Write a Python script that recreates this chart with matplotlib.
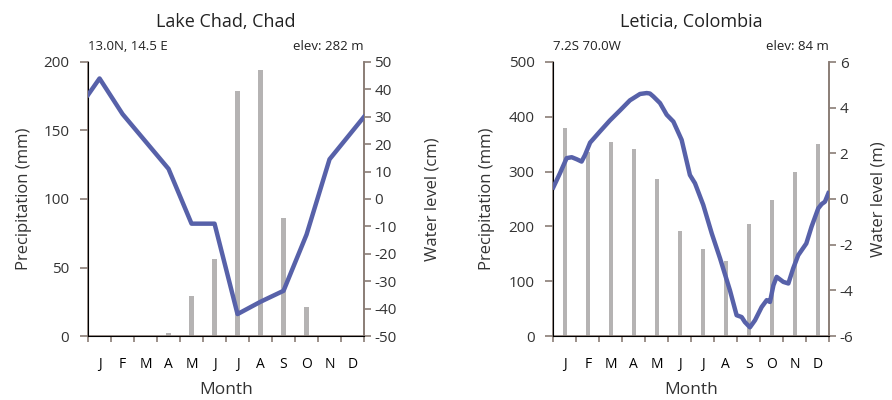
import matplotlib
matplotlib.use("Agg")
import matplotlib.pyplot as plt
import numpy as np

plt.rcParams['font.family'] = ['Open Sans', 'DejaVu Sans']
plt.rcParams['axes.unicode_minus'] = False

months = ['J', 'F', 'M', 'A', 'M', 'J', 'J', 'A', 'S', 'O', 'N', 'D']

# Lake Chad
chad_precip = [0, 0, 0, 2, 29, 56, 179, 194, 86, 21, 0, 0]
chad_level_x = [0, 0.5, 1.5, 2.5, 3.5, 4.5, 5.5, 6.5, 7.5, 8.5, 9.5, 10.5, 12]
chad_level = [38, 44, 31, 21, 11, -9, -9, -42, -37.5, -33.5, -13, 14.5, 30]

# Leticia
let_precip = [380, 335, 354, 342, 286, 192, 159, 136, 205, 249, 299, 351]
let_level_x = [0.0, 0.29, 0.58, 0.80, 1.02, 1.23, 1.38, 1.60, 2.03, 2.46, 2.90,
               3.33, 3.77, 4.06, 4.20, 4.35, 4.64, 4.93, 5.22, 5.58, 5.94, 6.16,
               6.52, 6.89, 7.25, 7.68, 7.97, 8.19, 8.33, 8.55, 8.77, 9.06, 9.28,
               9.42, 9.57, 9.71, 10.0, 10.22, 10.43, 10.65, 11.0, 11.23, 11.52,
               11.67, 11.81, 11.96]
let_level = [0.51, 1.13, 1.79, 1.83, 1.74, 1.64, 1.93, 2.47, 2.96, 3.44, 3.88,
             4.32, 4.60, 4.64, 4.62, 4.49, 4.20, 3.69, 3.39, 2.59, 1.05, 0.69,
             -0.26, -1.51, -2.60, -4.0, -5.09, -5.17, -5.39, -5.62, -5.31, -4.73,
             -4.43, -4.51, -3.78, -3.41, -3.63, -3.70, -3.04, -2.46, -1.95, -1.21,
             -0.41, -0.22, -0.12, 0.25]

spine_col = '#8a7d76'
text_col = '#333333'
bar_col = '#b5b3b3'
line_col = '#5761a9'


def panel(rect, titulo, coord, elev, precip, ymax, pticks, lx, ly, wlim, wticks, wlabel, lpad, rpad):
    ax = fig.add_axes(rect)
    x = np.arange(12) + 0.5
    ax.bar(x, precip, width=0.18, color=bar_col, zorder=2)
    ax.set_xlim(0, 12)
    ax.set_ylim(0, ymax)
    ax.set_yticks(pticks)
    ax.set_xticks(np.arange(13))
    ax.set_xticklabels([])
    ax.set_xticks(x, minor=True)
    ax.set_xticklabels(months, minor=True)
    ax.tick_params(colors=spine_col, labelcolor=text_col, labelsize=11, width=1.2)
    ax.tick_params(axis='x', which='minor', length=0, pad=15)
    ax.tick_params(axis='x', which='major', length=4.5, direction='out')
    ax.tick_params(axis='y', length=5.5, pad=8)
    ax.spines['top'].set_visible(False)
    for s in ['left', 'bottom', 'right']:
        ax.spines[s].set_color(spine_col)
        ax.spines[s].set_linewidth(1.2)
    ax.set_ylabel('Precipitation (mm)', fontsize=12, color=text_col, labelpad=lpad)
    ax.set_xlabel('Month', fontsize=12.5, color=text_col, labelpad=7)

    ax2 = ax.twinx()
    ax2.plot(lx, ly, color=line_col, lw=3.2, solid_joinstyle='round', zorder=3)
    ax2.set_ylim(*wlim)
    ax2.set_yticks(wticks)
    ax2.tick_params(colors=spine_col, labelcolor=text_col, labelsize=11, width=1.2,
                    length=5, pad=2.5)
    ax2.spines['top'].set_visible(False)
    ax2.spines['right'].set_color(spine_col)
    ax2.spines['right'].set_linewidth(1.2)
    ax2.set_ylabel(wlabel, fontsize=12, color=text_col, labelpad=rpad)

    ax.set_title(titulo, fontsize=13, color='#222222', pad=25)
    ax.text(0.0, 1.033, coord, transform=ax.transAxes, fontsize=9.5, ha='left',
            va='bottom', color='#222222')
    ax.text(1.0, 1.033, elev, transform=ax.transAxes, fontsize=9.5, ha='right',
            va='bottom', color='#222222')


fig = plt.figure(figsize=(8.92, 4), dpi=100)
fig.patch.set_facecolor('white')

panel([0.0987, 0.16, 0.3094, 0.685], 'Lake Chad, Chad', '13.0N, 14.5 E', 'elev: 282 m',
      chad_precip, 200, np.arange(0, 201, 50), chad_level_x, chad_level, (-50, 50),
      np.arange(-50, 51, 10), 'Water level (cm)', 8, 20)
panel([0.6203, 0.16, 0.3094, 0.685], 'Leticia, Colombia', '7.2S 70.0W', 'elev: 84 m',
      let_precip, 500, np.arange(0, 501, 100), let_level_x, let_level, (-6, 6),
      np.arange(-6, 7, 2), 'Water level (m)', 10, 12)

fig.savefig('out.png', dpi=100)
